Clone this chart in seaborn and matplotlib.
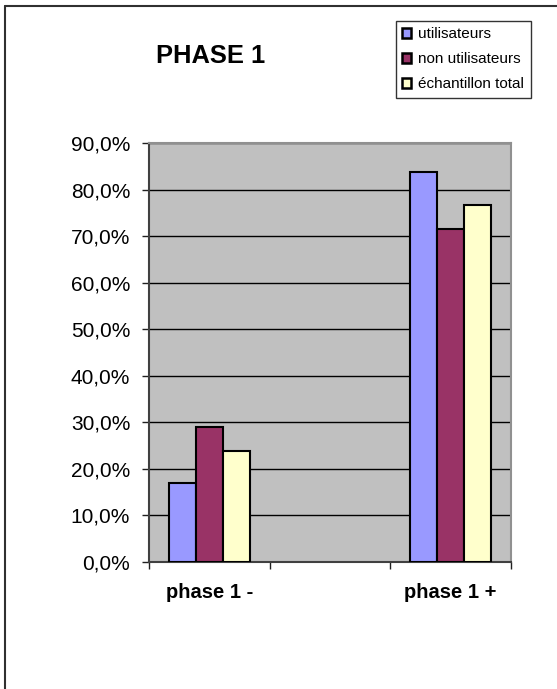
import matplotlib

matplotlib.use("Agg")
import matplotlib.pyplot as plt
import pandas as pd
import seaborn as sns
from matplotlib.lines import Line2D
from matplotlib.ticker import FuncFormatter

# chart values (percent)
categories = ["phase 1 -", "phase 1 +"]
groups = ["utilisateurs", "non utilisateurs", "échantillon total"]
utilisateurs = [17.0, 83.7]
non_utilisateurs = [28.9, 71.6]
echantillon_total = [23.9, 76.6]
# the original has an empty slot between the two phases
order = ["phase 1 -", "", "phase 1 +"]
colors = ["#9999FF", "#993366", "#FFFFCC"]
yticks = [0, 10, 20, 30, 40, 50, 60, 70, 80, 90]

df = pd.DataFrame({
    "phase": categories * 3,
    "groupe": [g for g in groups for _ in categories],
    "valeur": utilisateurs + non_utilisateurs + echantillon_total,
})

sns.set_style("white")
plt.rcParams["font.family"] = ["Liberation Sans", "DejaVu Sans"]
plt.rcParams["text.color"] = "black"
plt.rcParams["xtick.color"] = "black"
plt.rcParams["ytick.color"] = "black"

fig = plt.figure(figsize=(5.57, 6.89), dpi=100)
ax = fig.add_axes([0.2675, 0.1843, 0.6495, 0.6082])
ax.set_facecolor("#C0C0C0")

sns.barplot(
    data=df, x="phase", y="valeur", hue="groupe", order=order, hue_order=groups,
    palette=colors, saturation=1, width=0.67, gap=0, edgecolor="black",
    linewidth=1.5, errorbar=None, ax=ax, zorder=3,
)

ax.set_ylim(0, 90)
ax.set_xlim(-0.5, 2.5)
ax.set_yticks(yticks)
ax.yaxis.set_major_formatter(FuncFormatter(lambda v, p: f"{v:.1f}%".replace(".", ",")))
ax.grid(axis="y", color="black", linewidth=1.0, zorder=1)
ax.set_axisbelow(True)

# ticks between categories, labels in the middle
ax.set_xticks([-0.5, 0.5, 1.5, 2.5])
ax.set_xticklabels([])
ax.set_xticks([0, 1, 2], minor=True)
ax.set_xticklabels(["phase 1 -", "", "phase 1 +"], minor=True,
                   fontsize=14.5, fontweight="bold")
ax.tick_params(axis="x", which="major", direction="out", length=5, width=1,
               color="#202020", bottom=True)
ax.tick_params(axis="x", which="minor", length=0, pad=15, bottom=True)
ax.tick_params(axis="y", direction="out", length=5, width=1, color="#202020",
               left=True, labelsize=15, pad=8.5)
ax.set_xlabel("")
ax.set_ylabel("")

for side in ["left", "bottom"]:
    ax.spines[side].set_color("#404040")
    ax.spines[side].set_linewidth(1.5)
for side in ["top", "right"]:
    ax.spines[side].set_color("#909090")
    ax.spines[side].set_linewidth(1.5)

leg = ax.legend(
    loc="upper left", bbox_to_anchor=(396 / 557, 1 - 21 / 689),
    bbox_transform=fig.transFigure, fontsize=11, frameon=True, fancybox=False,
    handlelength=0.55, handleheight=0.55, handletextpad=0.5, labelspacing=0.72,
    borderpad=0.42, borderaxespad=0,
)
leg.get_frame().set_edgecolor("black")
leg.get_frame().set_linewidth(1.0)
for h in leg.legend_handles:
    h.set_linewidth(1.8)

fig.text(211 / 557, 1 - 56 / 689, "PHASE 1", ha="center", va="center",
         fontsize=18.4, fontweight="bold")

# outer frame (only left and top edges visible in the original)
fig.add_artist(Line2D([5 / 557, 5 / 557], [0, 1 - 6 / 689], color="#303030",
                      linewidth=1.5, transform=fig.transFigure))
fig.add_artist(Line2D([5 / 557, 1], [1 - 6 / 689, 1 - 6 / 689], color="#303030",
                      linewidth=1.5, transform=fig.transFigure))

fig.savefig("out.png", dpi=100)
